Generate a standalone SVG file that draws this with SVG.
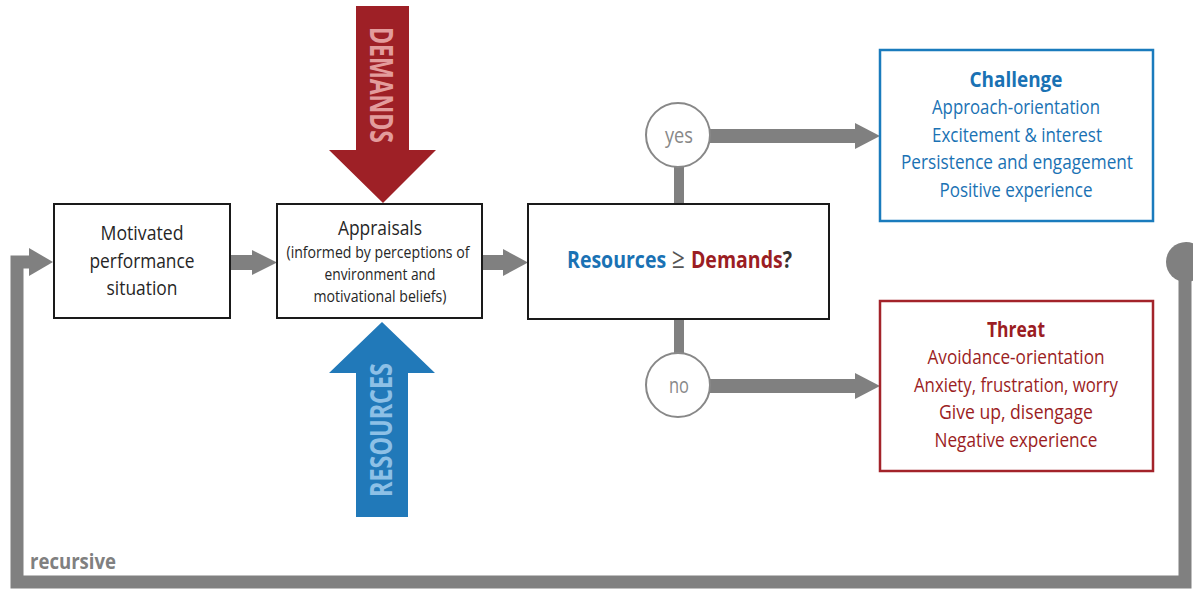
<svg xmlns="http://www.w3.org/2000/svg" width="1193" height="589" viewBox="0 0 1193 589">
<style>
.t{font-family:"Open Sans","Liberation Sans",sans-serif;text-anchor:middle}
.box{fill:#fff;stroke:#1a1a1a;stroke-width:2}
.dark{fill:#262626;font-size:20px}
.blue{fill:#1a72b4}
.red{fill:#9b1d23}
.conn{fill:#808080}
.circ{fill:#fff;stroke:#888;stroke-width:2}
.dec{font-family:"Open Sans","Liberation Sans",sans-serif;font-size:24px}
</style>
<rect width="1193" height="589" fill="#fff"/>
<g id="connectors">
  <path d="M1185,262 V582 H17 V262 H32" fill="none" stroke="#808080" stroke-width="13"/>
  <circle cx="1186" cy="262" r="20" class="conn"/>
  <polygon points="29,248 53,262 29,276" class="conn"/>
  <rect x="231" y="255" width="23" height="15" class="conn"/>
  <polygon points="252,250 277,262.5 252,275" class="conn"/>
  <rect x="483" y="255" width="22" height="15" class="conn"/>
  <polygon points="503,249 528,262.5 503,276" class="conn"/>
  <rect x="674" y="166" width="10" height="40" class="conn"/>
  <rect x="674" y="318" width="10" height="36" class="conn"/>
  <rect x="710" y="129" width="148" height="14" class="conn"/>
  <polygon points="855,123 880,136 855,149" class="conn"/>
  <rect x="710" y="379" width="148" height="14" class="conn"/>
  <polygon points="855,373 880,386 855,399" class="conn"/>
</g>
<g id="demands">
  <polygon points="356,6 409,6 409,150 436,150 383,203 329,150 356,150" fill="#9e2026"/>
  <text class="t" transform="translate(370,85) rotate(90)" font-size="32" font-weight="bold" fill="#e39c9c" textLength="116" lengthAdjust="spacingAndGlyphs">DEMANDS</text>
</g>
<g id="resources">
  <polygon points="382,322 435,373 408,373 408,517 356,517 356,373 329,373" fill="#2179b9"/>
  <text class="t" transform="translate(392,430) rotate(-90)" font-size="31" font-weight="bold" fill="#8dc0e6" textLength="134" lengthAdjust="spacingAndGlyphs">RESOURCES</text>
</g>
<g id="motivated">
  <rect x="54" y="204" width="176" height="114" class="box"/>
  <text class="t dark" x="142" y="240" textLength="83" lengthAdjust="spacingAndGlyphs">Motivated</text>
  <text class="t dark" x="142" y="268" textLength="105" lengthAdjust="spacingAndGlyphs">performance</text>
  <text class="t dark" x="142" y="295" textLength="71" lengthAdjust="spacingAndGlyphs">situation</text>
</g>
<g id="appraisals">
  <rect x="277" y="204" width="205" height="114" class="box"/>
  <text class="t dark" x="380" y="235" textLength="84" lengthAdjust="spacingAndGlyphs">Appraisals</text>
  <text class="t dark" x="378" y="258" style="font-size:15.5px" textLength="183" lengthAdjust="spacingAndGlyphs">(informed by perceptions of</text>
  <text class="t dark" x="380" y="280" style="font-size:15.5px" textLength="111" lengthAdjust="spacingAndGlyphs">environment and</text>
  <text class="t dark" x="380" y="302" style="font-size:15.5px" textLength="133" lengthAdjust="spacingAndGlyphs">motivational beliefs)</text>
</g>
<g id="decision">
  <rect x="528" y="204" width="301" height="115" class="box"/>
  <text x="567" y="268" class="dec" textLength="225" lengthAdjust="spacingAndGlyphs"><tspan class="blue" font-weight="bold">Resources</tspan><tspan fill="#555" font-size="28"> ≥ </tspan><tspan class="red" font-weight="bold">Demands</tspan><tspan fill="#333" font-weight="bold">?</tspan></text>
</g>
<g id="yes">
  <circle cx="678" cy="135" r="32" class="circ"/>
  <text class="t" x="679" y="143" font-size="22" fill="#888" textLength="28" lengthAdjust="spacingAndGlyphs">yes</text>
</g>
<g id="no">
  <circle cx="678" cy="385" r="32" class="circ"/>
  <text class="t" x="679" y="393" font-size="22" fill="#888" textLength="20" lengthAdjust="spacingAndGlyphs">no</text>
</g>
<g id="challenge">
  <rect x="880" y="50" width="273" height="171" fill="#fff" stroke="#1a7bbd" stroke-width="2.5"/>
  <text class="t blue" x="1016" y="87" font-size="21" font-weight="bold" textLength="93" lengthAdjust="spacingAndGlyphs">Challenge</text>
  <text class="t blue" x="1016" y="114" font-size="20" textLength="168" lengthAdjust="spacingAndGlyphs">Approach-orientation</text>
  <text class="t blue" x="1017" y="142" font-size="20" textLength="170" lengthAdjust="spacingAndGlyphs">Excitement &amp; interest</text>
  <text class="t blue" x="1017" y="169" font-size="20" textLength="232" lengthAdjust="spacingAndGlyphs">Persistence and engagement</text>
  <text class="t blue" x="1016" y="197" font-size="20" textLength="153" lengthAdjust="spacingAndGlyphs">Positive experience</text>
</g>
<g id="threat">
  <rect x="880" y="301" width="273" height="170" fill="#fff" stroke="#a3232a" stroke-width="2.5"/>
  <text class="t red" x="1016" y="337" font-size="21" font-weight="bold" textLength="58" lengthAdjust="spacingAndGlyphs">Threat</text>
  <text class="t red" x="1016" y="364" font-size="20" textLength="177" lengthAdjust="spacingAndGlyphs">Avoidance-orientation</text>
  <text class="t red" x="1016" y="392" font-size="20" textLength="204" lengthAdjust="spacingAndGlyphs">Anxiety, frustration, worry</text>
  <text class="t red" x="1016" y="419" font-size="20" textLength="154" lengthAdjust="spacingAndGlyphs">Give up, disengage</text>
  <text class="t red" x="1016" y="447" font-size="20" textLength="163" lengthAdjust="spacingAndGlyphs">Negative experience</text>
</g>
<text id="recursive-label" x="30" y="569" font-family="Open Sans, Liberation Sans, sans-serif" font-size="22" font-weight="bold" fill="#808080" textLength="86" lengthAdjust="spacingAndGlyphs">recursive</text>
</svg>
